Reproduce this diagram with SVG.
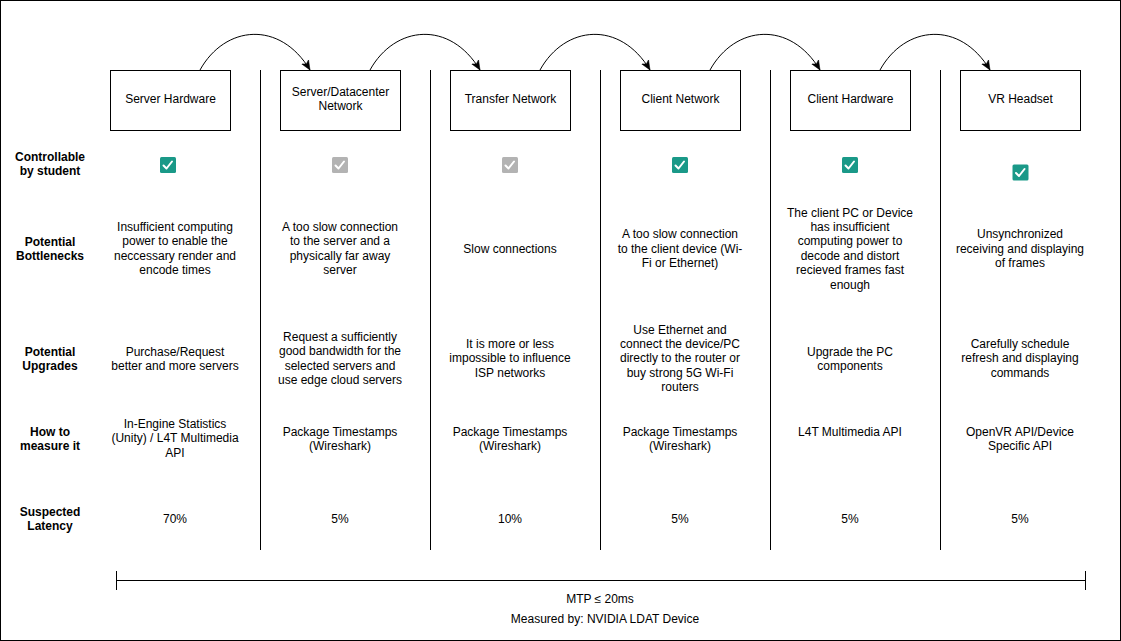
<svg xmlns="http://www.w3.org/2000/svg" width="1121" height="641" viewBox="0 0 1121 641">
<defs>
<style>
text{font-family:"Liberation Sans",Arial,Helvetica,sans-serif;font-size:12px;fill:#000;text-anchor:middle}
.lbl{font-weight:bold}
.box{fill:#fff;stroke:#000;stroke-width:1}
.sep{stroke:#000;stroke-width:1;fill:none}
.arc{fill:none;stroke:#000;stroke-width:1}
.chk{fill:#1a9988}
.chk.off{fill:#b3b3b3}
.tick{fill:none;stroke:#fff;stroke-width:2;stroke-linecap:round;stroke-linejoin:round}
</style>
<marker id="ah" viewBox="0 0 10 10" refX="9.5" refY="5" markerWidth="10" markerHeight="10" markerUnits="userSpaceOnUse" orient="auto">
<path d="M0,1 L9.5,5 L0,9 L2.5,5 Z" fill="#000" stroke="#000" stroke-width="0.5"/>
</marker>
<g id="cb"><rect x="-8" y="-8" width="16" height="16" rx="1.5"/><polyline class="tick" points="-4.5,0.5 -1.5,3.5 4,-3.5"/></g>
</defs>
<rect x="0.5" y="0.5" width="1120" height="640" fill="#fff" stroke="#000"/>

<g id="separators">
<line class="sep" x1="260.5" y1="70" x2="260.5" y2="550"/>
<line class="sep" x1="430.5" y1="70" x2="430.5" y2="550"/>
<line class="sep" x1="600.5" y1="70" x2="600.5" y2="550"/>
<line class="sep" x1="770.5" y1="70" x2="770.5" y2="550"/>
<line class="sep" x1="940.5" y1="70" x2="940.5" y2="550"/>
</g>

<g id="connectors">
<path class="arc" marker-end="url(#ah)" d="M200,70 C225,25 280,20 310,70"/>
<path class="arc" marker-end="url(#ah)" d="M370,70 C395,25 450,20 480,70"/>
<path class="arc" marker-end="url(#ah)" d="M540,70 C565,25 620,20 650,70"/>
<path class="arc" marker-end="url(#ah)" d="M710,70 C735,25 790,20 820,70"/>
<path class="arc" marker-end="url(#ah)" d="M880,70 C905,25 960,20 990,70"/>
</g>

<g id="node-server-hardware">
<rect class="box" x="110.5" y="70.5" width="120" height="60"/>
<text x="170.5" y="103">Server Hardware</text>
</g>
<g id="node-server-network">
<rect class="box" x="280.5" y="70.5" width="120" height="60"/>
<text x="340.5" y="96">Server/Datacenter</text>
<text x="340.5" y="110">Network</text>
</g>
<g id="node-transfer-network">
<rect class="box" x="450.5" y="70.5" width="120" height="60"/>
<text x="510.5" y="103">Transfer Network</text>
</g>
<g id="node-client-network">
<rect class="box" x="620.5" y="70.5" width="120" height="60"/>
<text x="680.5" y="103">Client Network</text>
</g>
<g id="node-client-hardware">
<rect class="box" x="790.5" y="70.5" width="120" height="60"/>
<text x="850.5" y="103">Client Hardware</text>
</g>
<g id="node-vr-headset">
<rect class="box" x="960.5" y="70.5" width="120" height="60"/>
<text x="1020.5" y="103">VR Headset</text>
</g>

<g id="row-labels">
<text class="lbl" x="50" y="161">Controllable</text>
<text class="lbl" x="50" y="175">by student</text>
<text class="lbl" x="50" y="245.5">Potential</text>
<text class="lbl" x="50" y="259.5">Bottlenecks</text>
<text class="lbl" x="50" y="355.5">Potential</text>
<text class="lbl" x="50" y="369.5">Upgrades</text>
<text class="lbl" x="50" y="435.5">How to</text>
<text class="lbl" x="50" y="449.5">measure it</text>
<text class="lbl" x="50" y="515.5">Suspected</text>
<text class="lbl" x="50" y="529.5">Latency</text>
</g>

<g id="checkboxes">
<use href="#cb" class="chk" x="168" y="165"/>
<use href="#cb" class="chk off" x="340" y="165"/>
<use href="#cb" class="chk off" x="510" y="165"/>
<use href="#cb" class="chk" x="680" y="165"/>
<use href="#cb" class="chk" x="850" y="165"/>
<use href="#cb" class="chk" x="1020.5" y="172.5"/>
</g>

<g id="bottlenecks">
<text x="175" y="231"><tspan x="175">Insufficient computing</tspan><tspan x="175" dy="14.4">power to enable the</tspan><tspan x="175" dy="14.4">neccessary render and</tspan><tspan x="175" dy="14.4">encode times</tspan></text>
<text x="340" y="231"><tspan x="340">A too slow connection</tspan><tspan x="340" dy="14.4">to the server and a</tspan><tspan x="340" dy="14.4">physically far away</tspan><tspan x="340" dy="14.4">server</tspan></text>
<text x="510" y="252.5">Slow connections</text>
<text x="680" y="238.3"><tspan x="680">A too slow connection</tspan><tspan x="680" dy="14.4">to the client device (Wi-</tspan><tspan x="680" dy="14.4">Fi or Ethernet)</tspan></text>
<text x="850" y="216.5"><tspan x="850">The client PC or Device</tspan><tspan x="850" dy="14.4">has insufficient</tspan><tspan x="850" dy="14.4">computing power to</tspan><tspan x="850" dy="14.4">decode and distort</tspan><tspan x="850" dy="14.4">recieved frames fast</tspan><tspan x="850" dy="14.4">enough</tspan></text>
<text x="1020" y="238.3"><tspan x="1020">Unsynchronized</tspan><tspan x="1020" dy="14.4">receiving and displaying</tspan><tspan x="1020" dy="14.4">of frames</tspan></text>
</g>

<g id="upgrades">
<text x="175" y="355.5"><tspan x="175">Purchase/Request</tspan><tspan x="175" dy="14.4">better and more servers</tspan></text>
<text x="340" y="341"><tspan x="340">Request a sufficiently</tspan><tspan x="340" dy="14.4">good bandwidth for the</tspan><tspan x="340" dy="14.4">selected servers and</tspan><tspan x="340" dy="14.4">use edge cloud servers</tspan></text>
<text x="510" y="348"><tspan x="510">It is more or less</tspan><tspan x="510" dy="14.4">impossible to influence</tspan><tspan x="510" dy="14.4">ISP networks</tspan></text>
<text x="680" y="333.5"><tspan x="680">Use Ethernet and</tspan><tspan x="680" dy="14.4">connect the device/PC</tspan><tspan x="680" dy="14.4">directly to the router or</tspan><tspan x="680" dy="14.4">buy strong 5G Wi-Fi</tspan><tspan x="680" dy="14.4">routers</tspan></text>
<text x="850" y="355.5"><tspan x="850">Upgrade the PC</tspan><tspan x="850" dy="14.4">components</tspan></text>
<text x="1020" y="348"><tspan x="1020">Carefully schedule</tspan><tspan x="1020" dy="14.4">refresh and displaying</tspan><tspan x="1020" dy="14.4">commands</tspan></text>
</g>

<g id="measure">
<text x="175" y="428"><tspan x="175">In-Engine Statistics</tspan><tspan x="175" dy="14.4">(Unity) / L4T Multimedia</tspan><tspan x="175" dy="14.4">API</tspan></text>
<text x="340" y="435.5"><tspan x="340">Package Timestamps</tspan><tspan x="340" dy="14.4">(Wireshark)</tspan></text>
<text x="510" y="435.5"><tspan x="510">Package Timestamps</tspan><tspan x="510" dy="14.4">(Wireshark)</tspan></text>
<text x="680" y="435.5"><tspan x="680">Package Timestamps</tspan><tspan x="680" dy="14.4">(Wireshark)</tspan></text>
<text x="850" y="435.5">L4T Multimedia API</text>
<text x="1020" y="435.5"><tspan x="1020">OpenVR API/Device</tspan><tspan x="1020" dy="14.4">Specific API</tspan></text>
</g>

<g id="latency">
<text x="175" y="522.5">70%</text>
<text x="340" y="522.5">5%</text>
<text x="510" y="522.5">10%</text>
<text x="680" y="522.5">5%</text>
<text x="850" y="522.5">5%</text>
<text x="1020" y="522.5">5%</text>
</g>

<g id="mtp-span">
<line class="sep" x1="116" y1="580.5" x2="1085" y2="580.5"/>
<line class="sep" x1="116.5" y1="571" x2="116.5" y2="590"/>
<line class="sep" x1="1085.5" y1="571" x2="1085.5" y2="590"/>
<text x="600" y="602.5">MTP ≤ 20ms</text>
<text x="605" y="622.5">Measured by: NVIDIA LDAT Device</text>
</g>
</svg>
